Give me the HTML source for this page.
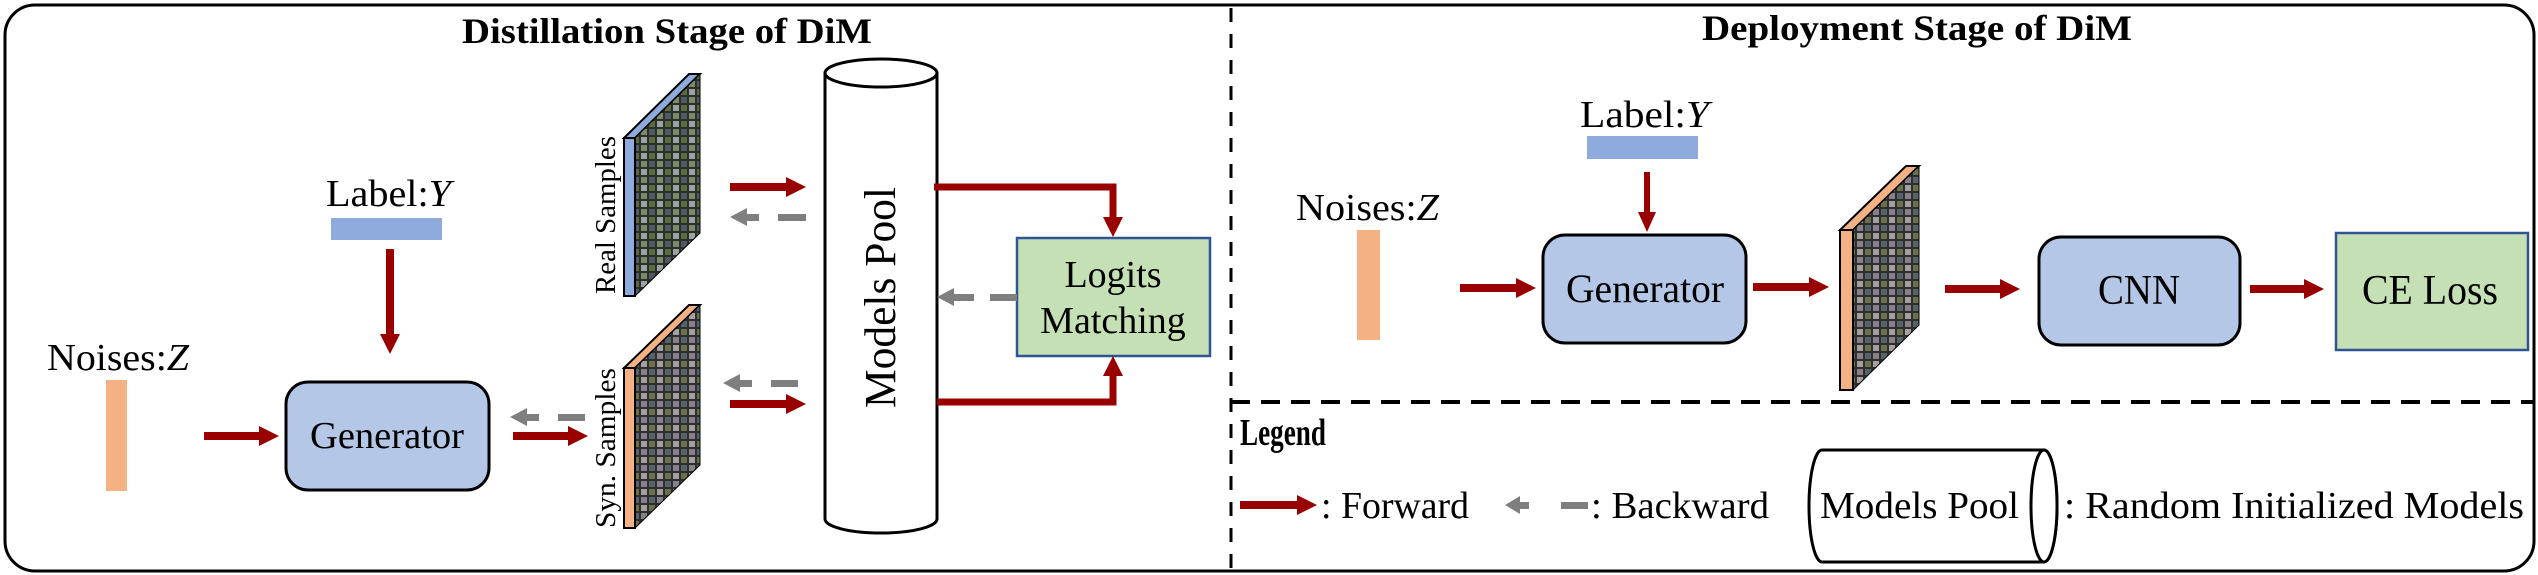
<!DOCTYPE html>
<html><head><meta charset="utf-8"><style>
html,body{margin:0;padding:0;background:#fff;}
svg{display:block;}
text{font-family:"Liberation Serif","Times New Roman",serif;fill:#000;}
</style></head><body>
<svg width="2538" height="575" viewBox="0 0 2538 575" xmlns="http://www.w3.org/2000/svg" font-family="Liberation Serif, serif">
<defs>
<pattern id="mos" x="0" y="0" width="16" height="16" patternUnits="userSpaceOnUse">
<rect width="16" height="16" fill="#2b2f2a"/>
<rect x="1" y="1" width="6" height="6" fill="#7c8a6a"/>
<rect x="9" y="1" width="6" height="6" fill="#4f5a64"/>
<rect x="1" y="9" width="6" height="6" fill="#9aa3a8"/>
<rect x="9" y="9" width="6" height="6" fill="#5d6b3c"/>
</pattern>
<pattern id="mos2" x="0" y="0" width="16" height="16" patternUnits="userSpaceOnUse">
<rect width="16" height="16" fill="#2e2e30"/>
<rect x="1" y="1" width="6" height="6" fill="#8a7f86"/>
<rect x="9" y="1" width="6" height="6" fill="#54626a"/>
<rect x="1" y="9" width="6" height="6" fill="#a8a0a0"/>
<rect x="9" y="9" width="6" height="6" fill="#6a7048"/>
</pattern>
</defs>

<rect x="5" y="5" width="2529" height="566" rx="30" ry="30" fill="#fff" stroke="#000" stroke-width="3"/>
<line x1="1231" y1="8" x2="1231" y2="568" stroke="#000" stroke-width="3" stroke-dasharray="14 12"/>
<line x1="1231" y1="402" x2="2534" y2="402" stroke="#000" stroke-width="4" stroke-dasharray="19 11"/>

<text x="667" y="43" font-size="36" font-weight="bold" text-anchor="middle" textLength="410" lengthAdjust="spacingAndGlyphs">Distillation Stage of DiM</text>
<text x="1917" y="40" font-size="36" font-weight="bold" text-anchor="middle" textLength="430" lengthAdjust="spacingAndGlyphs">Deployment Stage of DiM</text>

<!-- LEFT -->
<text x="47" y="370" font-size="38" textLength="142" lengthAdjust="spacingAndGlyphs">Noises:<tspan font-style="italic">Z</tspan></text>
<rect x="106" y="380" width="21" height="111" fill="#f4b183"/>
<text x="326" y="206" font-size="38" textLength="125" lengthAdjust="spacingAndGlyphs">Label:<tspan font-style="italic">Y</tspan></text>
<rect x="331" y="218" width="111" height="22" fill="#8faadc"/>
<rect x="286" y="382" width="203" height="108" rx="22" fill="#b4c7e7" stroke="#000" stroke-width="3"/>
<text x="387" y="448" font-size="38" text-anchor="middle" textLength="154" lengthAdjust="spacingAndGlyphs">Generator</text>

<!-- real slab -->
<polygon points="624,138 689,74 700,74 635,138" fill="#8faadc" stroke="#000" stroke-width="2"/>
<polygon points="635,138 700,74 700,233 635,296" fill="url(#mos)" stroke="#000" stroke-width="1"/>
<rect x="624" y="138" width="11" height="158" fill="#8faadc" stroke="#000" stroke-width="2"/>
<text transform="translate(615,294) rotate(-90)" font-size="28" textLength="158" lengthAdjust="spacingAndGlyphs">Real Samples</text>
<!-- syn slab -->
<polygon points="624,368 689,305 700,305 635,368" fill="#f4b183" stroke="#000" stroke-width="2"/>
<polygon points="635,368 700,305 700,465 635,528" fill="url(#mos2)" stroke="#000" stroke-width="1"/>
<rect x="624" y="368" width="11" height="160" fill="#f4b183" stroke="#000" stroke-width="2"/>
<text transform="translate(615,528) rotate(-90)" font-size="28" textLength="160" lengthAdjust="spacingAndGlyphs">Syn. Samples</text>

<!-- models pool cylinder -->
<path d="M825,73 L825,519 A56,14 0 0 0 937,519 L937,73" fill="#fff" stroke="#000" stroke-width="3"/>
<ellipse cx="881" cy="73" rx="56" ry="14" fill="#fff" stroke="#000" stroke-width="3"/>
<text transform="translate(895,408) rotate(-90)" font-size="44" textLength="221" lengthAdjust="spacingAndGlyphs">Models Pool</text>

<!-- logits box -->
<rect x="1017" y="238" width="193" height="118" fill="#c5e0b4" stroke="#2f5597" stroke-width="2.5"/>
<text x="1113" y="287" font-size="38" text-anchor="middle">Logits</text>
<text x="1113" y="333" font-size="38" text-anchor="middle">Matching</text>

<g fill="#990000">
<rect x="204" y="432" width="56" height="8"/><polygon points="259,426 279,436 259,446"/>
<rect x="513" y="432" width="56" height="8"/><polygon points="568,426 588,436 568,446"/>
<rect x="386" y="249" width="8" height="86"/><polygon points="380,334 390,354 400,334"/>
<rect x="730" y="183" width="57" height="8"/><polygon points="786,177 806,187 786,197"/>
<rect x="730" y="400" width="57" height="8"/><polygon points="786,394 806,404 786,414"/>
<path d="M934,187 L1113,187 L1113,218" fill="none" stroke="#990000" stroke-width="7"/>
<polygon points="1103,217 1113,237 1123,217"/>
<path d="M937,402 L1113,402 L1113,375" fill="none" stroke="#990000" stroke-width="7"/>
<polygon points="1103,376 1113,356 1123,376"/>
<rect x="1644" y="172" width="6" height="42"/><polygon points="1638,212 1647,232 1656,212"/>
<rect x="1460" y="284" width="57" height="8"/><polygon points="1516,278 1536,288 1516,298"/>
<rect x="1753" y="283" width="57" height="8"/><polygon points="1809,277 1829,287 1809,297"/>
<rect x="1945" y="285" width="56" height="8"/><polygon points="2000,279 2020,289 2000,299"/>
<rect x="2250" y="285" width="55" height="8"/><polygon points="2304,279 2324,289 2304,299"/>
<rect x="1240" y="501" width="58" height="8"/><polygon points="1297,495 1317,505 1297,515"/>
</g>
<g fill="#7f7f7f">
<polygon points="510,417 527,408 527,426"/><rect x="526" y="414" width="13" height="7"/><rect x="558" y="414" width="27" height="7"/>
<polygon points="730,217 747,208 747,226"/><rect x="746" y="214" width="13" height="7"/><rect x="778" y="214" width="28" height="7"/>
<polygon points="723,383 740,374 740,392"/><rect x="739" y="380" width="13" height="7"/><rect x="771" y="380" width="27" height="7"/>
<polygon points="937,297 954,288 954,306"/><rect x="953" y="294" width="21" height="7"/><rect x="990" y="294" width="27" height="7"/>
<polygon points="1505,505 1520,496 1520,514"/><rect x="1519" y="502" width="10" height="7"/><rect x="1561" y="502" width="27" height="7"/>
</g>

<!-- RIGHT -->
<text x="1296" y="220" font-size="38" textLength="143" lengthAdjust="spacingAndGlyphs">Noises:<tspan font-style="italic">Z</tspan></text>
<rect x="1357" y="230" width="23" height="110" fill="#f4b183"/>
<text x="1580" y="127" font-size="38" textLength="129" lengthAdjust="spacingAndGlyphs">Label:<tspan font-style="italic">Y</tspan></text>
<rect x="1587" y="136" width="111" height="23" fill="#8faadc"/>
<rect x="1543" y="235" width="203" height="108" rx="22" fill="#b4c7e7" stroke="#000" stroke-width="3"/>
<text x="1645" y="302" font-size="40" text-anchor="middle" textLength="158" lengthAdjust="spacingAndGlyphs">Generator</text>
<polygon points="1840,230 1906,166 1919,166 1853,230" fill="#f4b183" stroke="#000" stroke-width="2"/>
<polygon points="1853,230 1919,166 1919,325 1853,390" fill="url(#mos2)" stroke="#000" stroke-width="1"/>
<rect x="1840" y="230" width="13" height="160" fill="#f4b183" stroke="#000" stroke-width="2"/>
<rect x="2039" y="237" width="201" height="108" rx="22" fill="#b4c7e7" stroke="#000" stroke-width="3"/>
<text x="2139" y="304" font-size="42" text-anchor="middle" textLength="82" lengthAdjust="spacingAndGlyphs">CNN</text>
<rect x="2336" y="233" width="192" height="117" fill="#c5e0b4" stroke="#2f5597" stroke-width="2.5"/>
<text x="2430" y="304" font-size="42" text-anchor="middle" textLength="136" lengthAdjust="spacingAndGlyphs">CE Loss</text>

<!-- legend -->
<text x="1240" y="445" font-size="38" font-weight="bold" textLength="86" lengthAdjust="spacingAndGlyphs">Legend</text>
<text x="1321" y="518" font-size="38" textLength="148" lengthAdjust="spacingAndGlyphs">: Forward</text>
<text x="1591" y="518" font-size="38" textLength="178" lengthAdjust="spacingAndGlyphs">: Backward</text>
<path d="M1822,450 L2044,450 A13,56 0 0 1 2044,562 L1822,562 A13,56 0 0 1 1822,450 Z" fill="#fff" stroke="#000" stroke-width="3"/>
<ellipse cx="2044" cy="506" rx="13" ry="56" fill="#fff" stroke="#000" stroke-width="3"/>
<text x="1820" y="518" font-size="38" textLength="199" lengthAdjust="spacingAndGlyphs">Models Pool</text>
<text x="2064" y="518" font-size="38" textLength="460" lengthAdjust="spacingAndGlyphs">:  Random Initialized Models</text>
</svg>
</body></html>
